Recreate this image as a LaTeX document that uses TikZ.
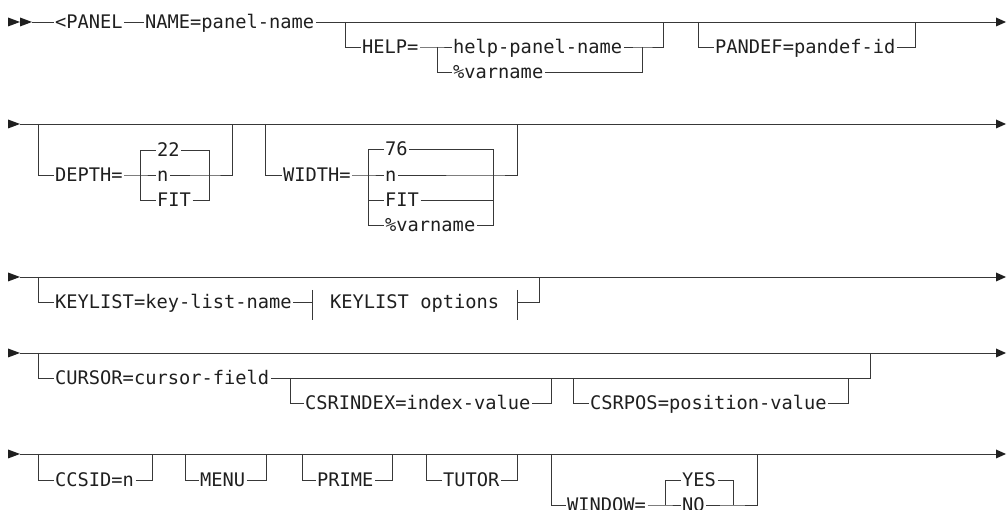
\documentclass[tikz,border=0pt]{standalone}
\usepackage{fontspec}
\newfontfamily\rrmono{DejaVu Sans Mono}
\begin{document}
\begin{tikzpicture}[x=1pt,y=-1pt,
  rr/.style={line width=0.9pt, draw=black!78},
  lbl/.style={font=\rrmono\fontsize{18.7}{20}\selectfont, text=black!88, inner xsep=1.5pt, inner ysep=0pt, text height=13.6pt, text depth=0pt, anchor=west},
  tipfill/.style={fill=black!88}]
\useasboundingbox (0,0) rectangle (1007,510);

% ---------- helpers: start/end arrows ----------
% Row 1
\coordinate (r1s) at (32,22); \coordinate (r1e) at (996,22);
\fill[tipfill] (8,17.5) -- (20,22) -- (8,26.5) -- cycle;
\fill[tipfill] (20,17.5) -- (32,22) -- (20,26.5) -- cycle;
\fill[tipfill] (r1e) ++(0,-4.5) -- (1006,22) -- (996,26.5) -- cycle;
\node[lbl] (panel) at (53.5,22) {<PANEL};
\node[lbl] (name) at (143.5,22) {NAME=panel-name};
\draw[rr] (r1s) -- (panel.west) (panel.east) -- (name.west) (name.east) -- (r1e);
% HELP
\coordinate (hl) at (345,22); \coordinate (hr) at (663,22);
\coordinate (hc1) at (437,47); \coordinate (hc2) at (642,47);
\node[lbl] (help) at (360.5,47) {HELP=};
\node[lbl] (hpn) at (451.5,47) {help-panel-name};
\node[lbl] (hvar) at (451.5,72) {\%varname};
\draw[rr] (hl) |- (help.west) (help.east) -- (hc1) -- (hpn.west);
\draw[rr] (hc1) |- (hvar.west);
\draw[rr] (hpn.east) -- (hc2) -| (hr);
\draw[rr] (hvar.east) -| (hc2);
% PANDEF
\coordinate (pl) at (698,22); \coordinate (pr) at (915,22);
\node[lbl] (pandef) at (713.5,47) {PANDEF=pandef-id};
\draw[rr] (pl) |- (pandef.west) (pandef.east) -| (pr);

% ---------- Row 2 ----------
\coordinate (r2s) at (20,124); \coordinate (r2e) at (996,124);
\fill[tipfill] (8,119.5) -- (20,124) -- (8,128.5) -- cycle;
\fill[tipfill] (996,119.5) -- (1006,124) -- (996,128.5) -- cycle;
\draw[rr] (r2s) -- (r2e);
% DEPTH
\coordinate (dl) at (38,124); \coordinate (dr) at (232,124);
\coordinate (dc1) at (140,175); \coordinate (dc2) at (209,175);
\node[lbl] (depth) at (53.5,175) {DEPTH=};
\node[lbl] (d22) at (155.5,150) {22};
\node[lbl] (dn) at (155.5,175) {n};
\node[lbl] (dfit) at (155.5,200) {FIT};
\draw[rr] (dl) |- (depth.west) (depth.east) -- (dc1) -- (dn.west);
\draw[rr] (dc1) |- (d22.west) (dc1) |- (dfit.west);
\draw[rr] (d22.east) -| (dc2) (dfit.east) -| (dc2) (dn.east) -- (dc2) -| (dr);
% WIDTH
\coordinate (wl) at (265,124); \coordinate (wr) at (517,124);
\coordinate (wc1) at (368,175); \coordinate (wc2) at (493,175);
\node[lbl] (width) at (281.5,175) {WIDTH=};
\node[lbl] (w76) at (383.5,149) {76};
\node[lbl] (wn) at (383.5,175) {n};
\node[lbl] (wfit) at (383.5,200) {FIT};
\node[lbl] (wvar) at (383.5,225) {\%varname};
\draw[rr] (wl) |- (width.west) (width.east) -- (wc1) -- (wn.west);
\draw[rr] (wc1) |- (w76.west) (wc1) |- (wfit.west) (wc1) |- (wvar.west);
\draw[rr] (w76.east) -| (wc2) (wfit.east) -| (wc2) (wvar.east) -| (wc2) (wn.east) -- (wc2) -| (wr);

% ---------- Row 3 ----------
\coordinate (r3s) at (20,277); \coordinate (r3e) at (996,277);
\fill[tipfill] (8,272.5) -- (20,277) -- (8,281.5) -- cycle;
\fill[tipfill] (996,272.5) -- (1006,277) -- (996,281.5) -- cycle;
\draw[rr] (r3s) -- (r3e);
\coordinate (kl) at (38,277); \coordinate (kr) at (539,277);
\coordinate (kf1) at (312,302); \coordinate (kf2) at (517,302);
\node[lbl] (keylist) at (53.5,302) {KEYLIST=key-list-name};
\node[lbl] (kopt) at (328.5,302) {KEYLIST options};
\draw[rr] (kl) |- (keylist.west) (keylist.east) -- (kf1);
\draw[rr] (312,290) -- (312,320) (517,290) -- (517,320);
\draw[rr] (kf2) -| (kr);

% ---------- Row 4 ----------
\coordinate (r4s) at (20,353); \coordinate (r4e) at (996,353);
\fill[tipfill] (8,348.5) -- (20,353) -- (8,357.5) -- cycle;
\fill[tipfill] (996,348.5) -- (1006,353) -- (996,357.5) -- cycle;
\draw[rr] (r4s) -- (r4e);
\coordinate (cl) at (38,353); \coordinate (cr) at (870,353);
\coordinate (cend) at (870,378);
\node[lbl] (cursor) at (53.5,378) {CURSOR=cursor-field};
\draw[rr] (cl) |- (cursor.west) (cursor.east) -- (cend) -- (cr);
\coordinate (xl) at (290,378); \coordinate (xr) at (551,378);
\node[lbl] (csrindex) at (303.5,403) {CSRINDEX=index-value};
\draw[rr] (xl) |- (csrindex.west) (csrindex.east) -| (xr);
\coordinate (ql) at (573,378); \coordinate (qr) at (848,378);
\node[lbl] (csrpos) at (588.5,403) {CSRPOS=position-value};
\draw[rr] (ql) |- (csrpos.west) (csrpos.east) -| (qr);

% ---------- Row 5 ----------
\coordinate (r5s) at (20,454); \coordinate (r5e) at (996,454);
\fill[tipfill] (8,449.5) -- (20,454) -- (8,458.5) -- cycle;
\fill[tipfill] (996,449.5) -- (1006,454) -- (996,458.5) -- cycle;
\draw[rr] (r5s) -- (r5e);
\node[lbl] (ccsid) at (53.5,480) {CCSID=n};
\draw[rr] (38,454) |- (ccsid.west) (ccsid.east) -| (152,454);
\node[lbl] (menu) at (198.5,480) {MENU};
\draw[rr] (185,454) |- (menu.west) (menu.east) -| (266,454);
\node[lbl] (prime) at (315.5,480) {PRIME};
\draw[rr] (302,454) |- (prime.west) (prime.east) -| (392,454);
\node[lbl] (tutor) at (441.5,480) {TUTOR};
\draw[rr] (426,454) |- (tutor.west) (tutor.east) -| (517,454);
\coordinate (yl) at (551,454); \coordinate (yr) at (757,454);
\coordinate (yc1) at (665,505); \coordinate (yc2) at (733,505);
\node[lbl] (window) at (565.5,505) {WINDOW=};
\node[lbl] (yes) at (680.5,480) {YES};
\node[lbl] (no) at (680.5,505) {NO};
\draw[rr] (yl) |- (window.west) (window.east) -- (yc1) -- (no.west);
\draw[rr] (yc1) |- (yes.west);
\draw[rr] (yes.east) -| (yc2) (no.east) -- (yc2) -| (yr);
\end{tikzpicture}
\end{document}
